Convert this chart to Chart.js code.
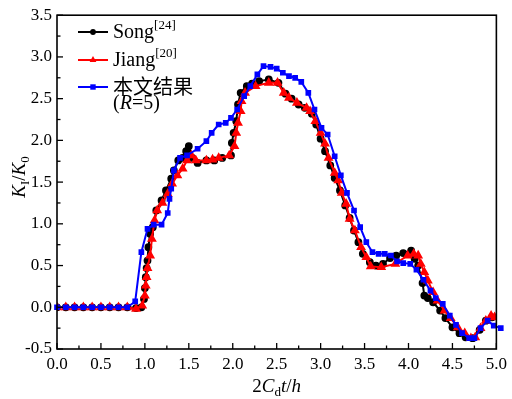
<!DOCTYPE html>
<html><head><meta charset="utf-8">
<script src="https://cdn.jsdelivr.net/npm/chart.js@4/dist/chart.umd.min.js"></script>
<style>html,body{margin:0;padding:0;background:#fff}#wrap{width:512px;height:399px}</style>
</head><body><div id="wrap"><canvas id="c" width="512" height="399"></canvas></div>
<script>
// ---- data ----
const songX=[0,0.1,0.2,0.3,0.4,0.5,0.6,0.7,0.8,0.9,0.96,0.99,1.0,1.01,1.02,1.03,1.04,1.06,1.09,1.13,1.19,1.24,1.30,1.33,1.38,1.43,1.47,1.50,1.54,1.60,1.70,1.79,1.88,1.98,1.99,2.01,2.04,2.06,2.09,2.16,2.22,2.30,2.41,2.52,2.60,2.67,2.75,2.82,2.90,2.95,3.00,3.05,3.11,3.16,3.22,3.28,3.33,3.38,3.43,3.48,3.56,3.63,3.71,3.79,3.86,3.94,4.03,4.07,4.11,4.16,4.18,4.22,4.28,4.36,4.42,4.50,4.58,4.65,4.73,4.81,4.88,4.95];
const songY=[0,0,0,0,0,0,0,0,0,-0.01,0,0.10,0.23,0.36,0.47,0.56,0.72,0.88,0.96,1.16,1.28,1.40,1.54,1.64,1.76,1.79,1.87,1.93,1.79,1.73,1.76,1.76,1.79,1.82,1.97,2.09,2.23,2.43,2.57,2.65,2.68,2.71,2.73,2.69,2.56,2.50,2.43,2.39,2.32,2.19,2.02,1.87,1.70,1.55,1.40,1.22,1.07,0.92,0.78,0.64,0.54,0.50,0.52,0.59,0.62,0.65,0.68,0.58,0.50,0.29,0.14,0.11,0.06,-0.04,-0.13,-0.24,-0.31,-0.36,-0.37,-0.27,-0.16,-0.12];
const jiangX=[0,0.1,0.2,0.3,0.4,0.5,0.6,0.7,0.8,0.9,0.97,1.0,1.01,1.02,1.03,1.06,1.08,1.11,1.14,1.20,1.26,1.31,1.37,1.43,1.48,1.53,1.58,1.70,1.77,1.84,1.96,2.02,2.04,2.06,2.09,2.10,2.14,2.26,2.41,2.51,2.58,2.64,2.73,2.84,2.88,2.94,3.00,3.05,3.09,3.16,3.20,3.24,3.29,3.33,3.39,3.46,3.52,3.57,3.69,3.85,3.99,4.06,4.11,4.14,4.18,4.22,4.28,4.33,4.41,4.48,4.56,4.64,4.71,4.76,4.82,4.88,4.94,4.98];
const jiangY=[0,0,0,0,0,0,0,0,0,-0.02,0.02,0.14,0.26,0.36,0.47,0.62,0.82,1.04,1.16,1.25,1.36,1.48,1.58,1.66,1.76,1.82,1.76,1.76,1.77,1.79,1.82,1.93,2.09,2.21,2.35,2.47,2.57,2.65,2.69,2.69,2.57,2.51,2.45,2.39,2.35,2.23,2.09,1.96,1.79,1.61,1.52,1.37,1.24,1.06,0.92,0.72,0.60,0.49,0.48,0.52,0.62,0.64,0.62,0.52,0.42,0.32,0.18,0.08,-0.04,-0.13,-0.24,-0.31,-0.37,-0.36,-0.25,-0.16,-0.10,-0.12];
const oursX=[0,0.1,0.2,0.3,0.4,0.5,0.6,0.7,0.8,0.89,0.96,1.03,1.10,1.19,1.26,1.28,1.30,1.33,1.40,1.48,1.60,1.70,1.76,1.84,1.92,1.98,2.05,2.13,2.20,2.28,2.35,2.43,2.50,2.57,2.64,2.71,2.78,2.86,2.93,3.01,3.08,3.16,3.23,3.30,3.38,3.45,3.52,3.59,3.66,3.73,3.80,3.87,3.94,4.02,4.09,4.17,4.25,4.31,4.39,4.47,4.54,4.61,4.69,4.75,4.82,4.90,4.97,5.05];
const oursY=[0,0,0,0,0,0,0,0,0,0.07,0.66,0.94,0.99,0.99,1.13,1.30,1.42,1.64,1.79,1.82,1.90,1.99,2.09,2.19,2.21,2.27,2.37,2.53,2.65,2.79,2.89,2.88,2.86,2.81,2.77,2.75,2.70,2.57,2.37,2.15,2.07,1.81,1.58,1.37,1.16,0.96,0.78,0.66,0.64,0.64,0.62,0.55,0.53,0.52,0.45,0.33,0.20,0.11,0.04,-0.10,-0.21,-0.31,-0.37,-0.37,-0.25,-0.16,-0.22,-0.25];
const xTicks=[0,0.5,1,1.5,2,2.5,3,3.5,4,4.5,5];
const yTicks=[-0.5,0,0.5,1,1.5,2,2.5,3,3.5];
const seriesNames=['Song','Jiang','本文结果'];

const pts=(xs,ys)=>xs.map((v,i)=>({x:v,y:ys[i]}));
const SERIF="'Liberation Serif','Times New Roman',serif";
const CJK="'Noto Sans CJK SC',sans-serif";

function richWidth(ctx,parts){let w=0;for(const p of parts){ctx.font=p[1];w+=ctx.measureText(p[0]).width;}return w;}
function rich(ctx,parts,x,y){let cx=x;for(const p of parts){ctx.font=p[1];ctx.fillText(p[0],cx,y+(p[2]||0));cx+=ctx.measureText(p[0]).width;}}

function marker(ctx,style,x,y,color){
  ctx.fillStyle=color;ctx.strokeStyle=color;ctx.beginPath();
  if(style==='circle'){ctx.arc(x,y,2.9,0,Math.PI*2);}
  else if(style==='triangle'){const r=3.9;ctx.moveTo(x,y-r);ctx.lineTo(x+r*0.87,y+r*0.5);ctx.lineTo(x-r*0.87,y+r*0.5);ctx.closePath();}
  else {ctx.rect(x-2.7,y-2.7,5.4,5.4);}
  ctx.fill();
}

const deco={id:'deco',
 afterDatasetsDraw(chart){
  const {ctx,chartArea:a,scales:{x,y}}=chart;
  ctx.save();
  ctx.strokeStyle='#000';ctx.lineWidth=1.6;
  ctx.strokeRect(a.left,a.top,a.right-a.left,a.bottom-a.top);
  ctx.lineWidth=1.3;
  const xs=xTicks;
  for(let i=0;i<xs.length;i++){
    const p=x.getPixelForValue(xs[i]);
    ctx.beginPath();ctx.moveTo(p,a.bottom);ctx.lineTo(p,a.bottom-6);ctx.stroke();
    if(i<xs.length-1){const m=x.getPixelForValue((xs[i]+xs[i+1])/2);ctx.beginPath();ctx.moveTo(m,a.bottom);ctx.lineTo(m,a.bottom-3.5);ctx.stroke();}
  }
  const ys=yTicks;
  for(let i=0;i<ys.length;i++){
    const p=y.getPixelForValue(ys[i]);
    ctx.beginPath();ctx.moveTo(a.left,p);ctx.lineTo(a.left+6,p);ctx.stroke();
    if(i<ys.length-1){const m=y.getPixelForValue((ys[i]+ys[i+1])/2);ctx.beginPath();ctx.moveTo(a.left,m);ctx.lineTo(a.left+3.5,m);ctx.stroke();}
  }
  // legend
  const ds=chart.data.datasets;
  const rows=[
    {d:ds[0],cy:32,base:38,parts:[[seriesNames[0],'20px '+SERIF],['[24]','13px '+SERIF,-9]]},
    {d:ds[1],cy:60,base:66,parts:[[seriesNames[1],'20px '+SERIF],['[20]','13px '+SERIF,-9]]},
    {d:ds[2],cy:87,base:94,parts:[[seriesNames[2],'20px '+CJK]]}
  ];
  ctx.textBaseline='alphabetic';ctx.textAlign='left';
  for(const r of rows){
    ctx.strokeStyle=r.d.borderColor;ctx.lineWidth=2;
    ctx.beginPath();ctx.moveTo(78,r.cy);ctx.lineTo(108,r.cy);ctx.stroke();
    marker(ctx,r.d.pointStyle,93,r.cy,r.d.borderColor);
    ctx.fillStyle='#000';
    rich(ctx,r.parts,113,r.base);
  }
  rich(ctx,[['(','20px '+SERIF],['R','italic 20px '+SERIF],['=5)','20px '+SERIF]],113,109);
  // x title
  const xt=[['2','19px '+SERIF],['C','italic 19px '+SERIF],['d','13px '+SERIF,4],['t','italic 19px '+SERIF],['/','19px '+SERIF],['h','italic 19px '+SERIF]];
  const cx=(a.left+a.right)/2;
  rich(ctx,xt,cx-richWidth(ctx,xt)/2,392);
  // y title
  const yt=[['K','italic 19px '+SERIF],['I','13px '+SERIF,4],['/','19px '+SERIF],['K','italic 19px '+SERIF],['0','13px '+SERIF,4]];
  ctx.translate(25,177);ctx.rotate(-Math.PI/2);
  rich(ctx,yt,-richWidth(ctx,yt)/2,0);
  ctx.restore();
 }};

const tickFont={family:SERIF,size:17};
new Chart(document.getElementById('c'),{
  type:'scatter',
  data:{datasets:[
    {label:seriesNames[0],data:pts(songX,songY),borderColor:'#000000',backgroundColor:'#000000',pointStyle:'circle',pointRadius:2.9,borderWidth:2,showLine:true,order:2},
    {label:seriesNames[1],data:pts(jiangX,jiangY),borderColor:'#ff0000',backgroundColor:'#ff0000',pointStyle:'triangle',pointRadius:3.7,borderWidth:2,showLine:true,order:1},
    {label:seriesNames[2],data:pts(oursX,oursY),borderColor:'#0000ff',backgroundColor:'#0000ff',pointStyle:'rect',pointRadius:2.6,borderWidth:2,showLine:true,order:0,clip:false}
  ]},
  options:{
    responsive:false,animation:false,
    layout:{padding:{top:14,right:13,left:0,bottom:0}},
    plugins:{legend:{display:false},tooltip:{enabled:false}},
    elements:{line:{tension:0},point:{borderWidth:0}},
    scales:{
      x:{type:'linear',min:0,max:5,
        afterBuildTicks:s=>{s.ticks=xTicks.map(v=>({value:v}));},
        afterFit:s=>{s.height=50;},
        grid:{display:false,drawTicks:false},border:{display:false},
        ticks:{padding:5,color:'#000',font:tickFont,maxRotation:0,autoSkip:false,callback:v=>Number(v).toFixed(1)}},
      y:{type:'linear',min:-0.5,max:3.5,
        afterBuildTicks:s=>{s.ticks=yTicks.map(v=>({value:v}));},
        afterFit:s=>{s.width=57;},
        grid:{display:false,drawTicks:false},border:{display:false},
        ticks:{padding:5,color:'#000',font:tickFont,autoSkip:false,callback:v=>Number(v).toFixed(1)}}
    }
  },
  plugins:[deco]
});
</script></body></html>
